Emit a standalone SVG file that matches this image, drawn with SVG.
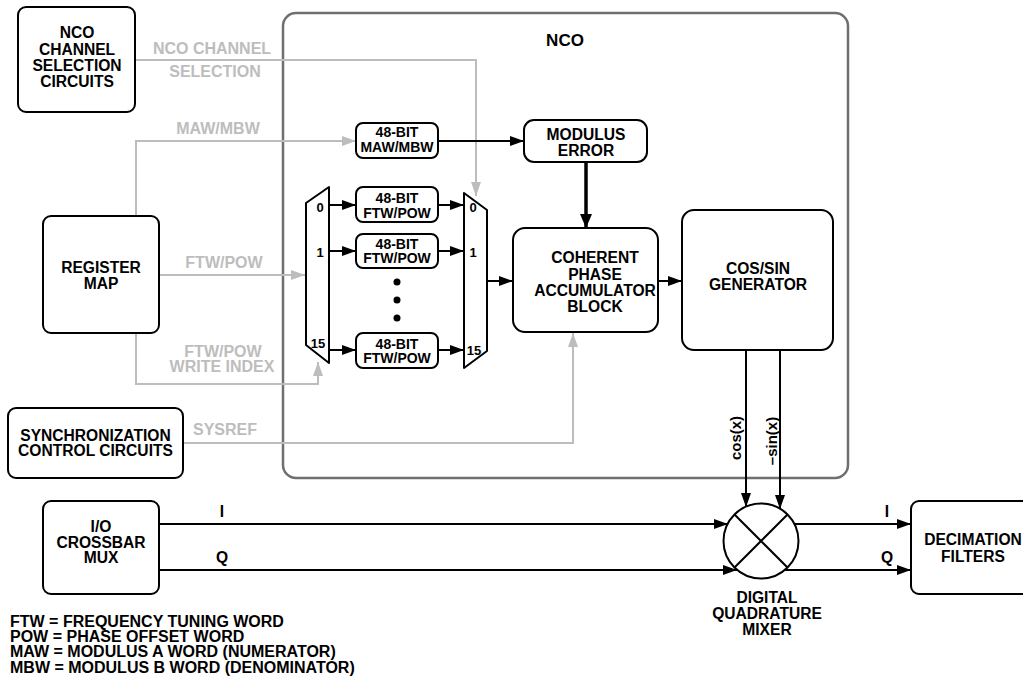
<svg xmlns="http://www.w3.org/2000/svg" width="1023" height="681" viewBox="0 0 1023 681">
<style>
text{font-family:"Liberation Sans",Arial,sans-serif;font-weight:bold;fill:#000;text-anchor:middle}
.t{font-size:15.6px}
.s{font-size:14px}
.n{font-size:13px}
.g{fill:#bdbdbd;font-size:16px}
.lg{text-anchor:start;font-size:16px}
.box{fill:#fff;stroke:#000;stroke-width:2}
.nco{fill:none;stroke:#6f6f6f;stroke-width:2.5}
.bl{fill:none;stroke:#000;stroke-width:2}
.gl{fill:none;stroke:#bdbdbd;stroke-width:2}
</style>
<defs>
<marker id="ab" markerUnits="userSpaceOnUse" markerWidth="14" markerHeight="10" refX="14" refY="5" orient="auto"><path d="M0,0 L14,5 L0,10 z" fill="#000"/></marker>
<marker id="abt" markerUnits="userSpaceOnUse" markerWidth="14" markerHeight="12" refX="14" refY="6" orient="auto"><path d="M0,0 L14,6 L0,12 z" fill="#000"/></marker>
<marker id="ag" markerUnits="userSpaceOnUse" markerWidth="14" markerHeight="10" refX="14" refY="5" orient="auto"><path d="M0,0 L14,5 L0,10 z" fill="#bdbdbd"/></marker>
</defs>
<rect width="1023" height="681" fill="#fff"/>

<g id="nco">
<rect class="nco" x="283" y="13" width="565" height="465" rx="13"/>
<text class="t" style="font-size:17px" x="565" y="46">NCO</text>
</g>

<g id="connectors">
<path class="gl" d="M135,60 H476 V196" marker-end="url(#ag)"/>
<path class="gl" d="M136,217 V141 H356" marker-end="url(#ag)"/>
<path class="gl" d="M159,275 H305" marker-end="url(#ag)"/>
<path class="gl" d="M136,333 V384 H318 V362" marker-end="url(#ag)"/>
<path class="gl" d="M183,443 H573 V333" marker-end="url(#ag)"/>
<path class="bl" d="M438,141 H524" marker-end="url(#ab)"/>
<path d="M586,162 V228" fill="none" stroke="#000" stroke-width="3.5" marker-end="url(#abt)"/>
<path class="bl" d="M329,205 H356" marker-end="url(#ab)"/>
<path class="bl" d="M329,251 H356" marker-end="url(#ab)"/>
<path class="bl" d="M329,350 H356" marker-end="url(#ab)"/>
<path class="bl" d="M438,205 H464" marker-end="url(#ab)"/>
<path class="bl" d="M438,251 H464" marker-end="url(#ab)"/>
<path class="bl" d="M438,350 H464" marker-end="url(#ab)"/>
<path class="bl" d="M487,281 H513" marker-end="url(#ab)"/>
<path class="bl" d="M658,281 H682" marker-end="url(#ab)"/>
<path class="bl" d="M746,350 V507" marker-end="url(#ab)"/>
<path class="bl" d="M780,350 V509" marker-end="url(#ab)"/>
<path class="bl" d="M159,524 H728" marker-end="url(#ab)"/>
<path class="bl" d="M159,570 H737" marker-end="url(#ab)"/>
<path class="bl" d="M794,524 H911" marker-end="url(#ab)"/>
<path class="bl" d="M785,570 H911" marker-end="url(#ab)"/>
<text class="g" x="212" y="54">NCO CHANNEL</text>
<text class="g" x="215" y="77">SELECTION</text>
<text class="g" x="218" y="134">MAW/MBW</text>
<text class="g" x="224" y="268">FTW/POW</text>
<text class="g" x="223" y="357">FTW/POW</text>
<text class="g" x="222" y="372">WRITE INDEX</text>
<text class="g" x="225" y="435">SYSREF</text>
<text class="t" x="222" y="517">I</text>
<text class="t" x="222" y="563">Q</text>
<text class="t" x="887" y="517">I</text>
<text class="t" x="887" y="563">Q</text>
<text class="t" style="font-size:15px" transform="translate(741,438) rotate(-90)">cos(x)</text>
<text class="t" style="font-size:15px" transform="translate(777,441) rotate(-90)">–sin(x)</text>
</g>

<g id="nco-channel-selection">
<rect class="box" x="18" y="7" width="117" height="105" rx="8"/>
<text class="t" x="77" y="38">NCO</text>
<text class="t" x="77" y="54.5">CHANNEL</text>
<text class="t" x="77" y="71">SELECTION</text>
<text class="t" x="77" y="87">CIRCUITS</text>
</g>

<g id="register-map">
<rect class="box" x="43" y="216" width="116" height="117" rx="8"/>
<text class="t" x="101" y="273">REGISTER</text>
<text class="t" x="101" y="289">MAP</text>
</g>

<g id="sync-control">
<rect class="box" x="8" y="408" width="175" height="70" rx="8"/>
<text class="t" x="95.5" y="441">SYNCHRONIZATION</text>
<text class="t" x="95.5" y="456">CONTROL CIRCUITS</text>
</g>

<g id="io-crossbar">
<rect class="box" x="43" y="501" width="116" height="93" rx="8"/>
<text class="t" x="101" y="532">I/O</text>
<text class="t" x="101" y="547.5">CROSSBAR</text>
<text class="t" x="101" y="563">MUX</text>
</g>

<g id="maw-mbw">
<rect class="box" x="356" y="123" width="82" height="35" rx="7"/>
<text class="s" x="397" y="137">48-BIT</text>
<text class="s" x="397" y="151.5">MAW/MBW</text>
</g>

<g id="demux">
<path class="box" d="M306,203 L329,187 L329,363 L306,345 Z" stroke-linejoin="round"/>
<text class="n" x="320" y="212">0</text>
<text class="n" x="320" y="257">1</text>
<text class="n" x="318" y="348">15</text>
</g>

<g id="ftw0">
<rect class="box" x="356" y="187" width="82" height="35" rx="7"/>
<text class="s" x="397" y="203">48-BIT</text>
<text class="s" x="397" y="217.5">FTW/POW</text>
</g>
<g id="ftw1">
<rect class="box" x="356" y="234" width="82" height="34" rx="7"/>
<text class="s" x="397" y="248.5">48-BIT</text>
<text class="s" x="397" y="263">FTW/POW</text>
</g>
<g id="dots">
<circle cx="397" cy="282" r="3.5"/>
<circle cx="397" cy="300" r="3.5"/>
<circle cx="397" cy="318" r="3.5"/>
</g>
<g id="ftw15">
<rect class="box" x="356" y="333" width="82" height="35" rx="7"/>
<text class="s" x="397" y="348.5">48-BIT</text>
<text class="s" x="397" y="363">FTW/POW</text>
</g>

<g id="mux">
<path class="box" d="M464,193 L487,210 L487,351 L464,368 Z" stroke-linejoin="round"/>
<text class="n" x="473" y="212">0</text>
<text class="n" x="473" y="257">1</text>
<text class="n" x="474" y="355">15</text>
</g>

<g id="modulus-error">
<rect class="box" x="524" y="120" width="123" height="42" rx="10"/>
<text class="t" x="586" y="140">MODULUS</text>
<text class="t" x="586" y="156">ERROR</text>
</g>

<g id="phase-accumulator">
<rect class="box" x="513" y="228" width="145" height="104" rx="12"/>
<text class="t" x="595" y="263">COHERENT</text>
<text class="t" x="595" y="280">PHASE</text>
<text class="t" x="595" y="296">ACCUMULATOR</text>
<text class="t" x="595" y="312">BLOCK</text>
</g>

<g id="cos-sin">
<rect class="box" x="682" y="210" width="151" height="140" rx="12"/>
<text class="t" x="758" y="274">COS/SIN</text>
<text class="t" x="758" y="290">GENERATOR</text>
</g>

<g id="mixer">
<circle cx="761" cy="541" r="37.5" fill="#fff" stroke="#000" stroke-width="2"/>
<path class="bl" d="M734.5,514.5 L787.5,567.5 M787.5,514.5 L734.5,567.5"/>
<text class="t" x="767" y="603">DIGITAL</text>
<text class="t" x="767" y="619">QUADRATURE</text>
<text class="t" x="767" y="635">MIXER</text>
</g>

<g id="decimation">
<rect class="box" x="911" y="501" width="130" height="93" rx="8"/>
<text class="t" x="973" y="545">DECIMATION</text>
<text class="t" x="973" y="562">FILTERS</text>
</g>

<g id="legend">
<text class="lg" x="10" y="627">FTW = FREQUENCY TUNING WORD</text>
<text class="lg" x="10" y="642">POW = PHASE OFFSET WORD</text>
<text class="lg" x="10" y="657">MAW = MODULUS A WORD (NUMERATOR)</text>
<text class="lg" x="10" y="673">MBW = MODULUS B WORD (DENOMINATOR)</text>
</g>
</svg>
